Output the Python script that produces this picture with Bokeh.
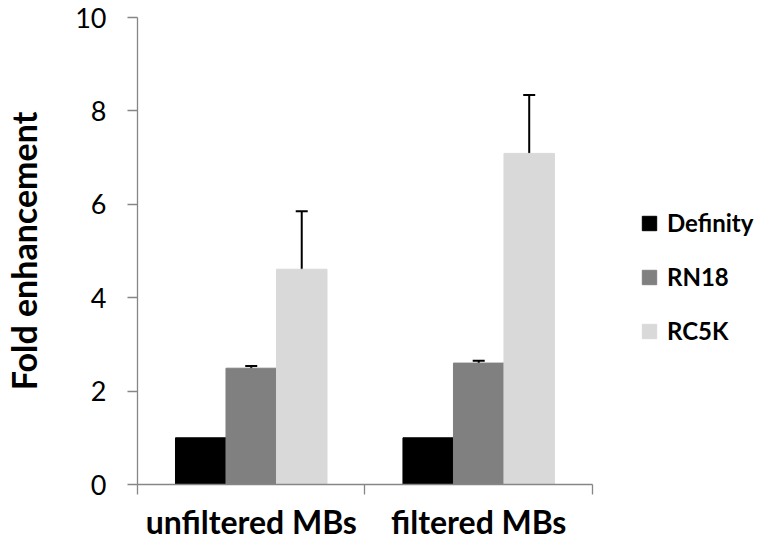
import numpy as np
from bokeh.plotting import figure
from bokeh.layouts import column
from bokeh.models import (ColumnDataSource, Whisker, TeeHead, FixedTicker, Legend,
                          LegendItem, Range1d)
from bokeh.core.properties import value
from bokeh.embed import file_html
from bokeh.resources import INLINE

# ---- data ----
categories = ["unfiltered MBs", "filtered MBs"]
series = ["Definity", "RN18", "RC5K"]
definity = [1.0, 1.0]
rn18 = [2.49, 2.60]
rn18_err = [0.05, 0.05]
rc5k = [4.61, 7.09]
rc5k_err = [1.24, 1.25]
y_ticks = [0, 2, 4, 6, 8, 10]
colors = ["#000000", "#808080", "#D9D9D9"]

FONT = "Lato"
AXIS_GRAY = "#868686"

# ---- layout (pixels) ----
W = 758
H_MAIN = 501      # main chart: frame from 17 to 484
H_CAT = 39        # strip holding the category names
LEFT = 130

n = len(categories)
centers = np.arange(n) + 0.5
bar_w = 0.222
offsets = [-bar_w, 0.0, bar_w]

x_range = Range1d(0, 2.730)
p = figure(width=W, height=H_MAIN, output_backend="svg", toolbar_location=None,
           x_range=x_range, y_range=Range1d(0, 10),
           min_border_left=LEFT, min_border_right=0, min_border_top=17,
           min_border_bottom=H_MAIN - 484)
p.outline_line_color = None
p.grid.grid_line_color = None
p.background_fill_color = "white"
p.border_fill_color = "white"

vals = [definity, rn18, rc5k]
errs = [None, rn18_err, rc5k_err]
renderers = []
for name, v, e, off, col in zip(series, vals, errs, offsets, colors):
    src = dict(x=centers + off, top=v)
    if e is not None:
        src["upper"] = [a + b for a, b in zip(v, e)]
        src["lower"] = [a - b for a, b in zip(v, e)]
    source = ColumnDataSource(src)
    r = p.vbar(x="x", top="top", width=bar_w, bottom=0, source=source,
               fill_color=col, line_color=col)
    renderers.append(r)
    if e is not None:
        w = Whisker(base="x", upper="upper", lower="lower", source=source,
                    line_color="black", line_width=2,
                    upper_head=TeeHead(size=12, line_color="black", line_width=2),
                    lower_head=TeeHead(size=12, line_color="black", line_width=2))
        p.add_layout(w)

# x axis: boundary tick marks only
xa = p.xaxis[0]
xa.ticker = FixedTicker(ticks=[], minor_ticks=list(np.arange(n + 1)))
xa.bounds = (0, n)
xa.axis_line_color = AXIS_GRAY
xa.axis_line_width = 1.3
xa.major_tick_line_color = None
xa.major_tick_out = 0
xa.major_label_standoff = 0
xa.minor_tick_line_color = AXIS_GRAY
xa.minor_tick_line_width = 1.3
xa.minor_tick_out = 10
xa.minor_tick_in = 0

ya = p.yaxis[0]
ya.ticker = FixedTicker(ticks=y_ticks, minor_ticks=[])
ya.axis_line_color = AXIS_GRAY
ya.axis_line_width = 1.3
ya.major_tick_line_color = AXIS_GRAY
ya.major_tick_line_width = 1.3
ya.major_tick_out = 10
ya.major_tick_in = 0
ya.major_label_text_font = FONT
ya.major_label_text_font_size = "27px"
ya.major_label_text_color = "black"
ya.major_label_standoff = 21
ya.axis_label = "Fold enhancement"
ya.axis_label_text_font = FONT
ya.axis_label_text_font_style = "bold"
ya.axis_label_text_font_size = "34px"
ya.axis_label_text_color = "black"
ya.axis_label_standoff = 28

legend = Legend(items=[LegendItem(label=s, renderers=[r]) for s, r in zip(series, renderers)],
                location=(503, 139))
legend.glyph_width = 18
legend.glyph_height = 18
legend.label_standoff = 9
legend.label_text_font = FONT
legend.label_text_font_style = "bold"
legend.label_text_font_size = "24px"
legend.label_text_color = "black"
legend.label_height = 18
legend.spacing = 25
legend.padding = 0
legend.margin = 0
legend.border_line_color = None
legend.background_fill_alpha = 0
p.add_layout(legend)

# category names strip, sharing the x scale of the chart
c = figure(width=W, height=H_CAT, output_backend="svg", toolbar_location=None,
           x_range=x_range, y_range=Range1d(0, 1),
           x_axis_type=None, y_axis_type=None,
           min_border_left=LEFT, min_border_right=0, min_border_top=0,
           min_border_bottom=0)
c.outline_line_color = None
c.grid.grid_line_color = None
c.background_fill_color = "white"
c.border_fill_color = "white"
cat_src = ColumnDataSource(dict(x=centers, y=[0.0] * n, text=categories))
c.text(x="x", y="y", text="text", source=cat_src, y_offset=-19,
       text_align="center", text_baseline="alphabetic",
       text_font=value(FONT), text_font_style="bold",
       text_font_size="32px", text_color="black")

layout = column(p, c, spacing=0)
open("out.html", "w").write(file_html(layout, INLINE))
